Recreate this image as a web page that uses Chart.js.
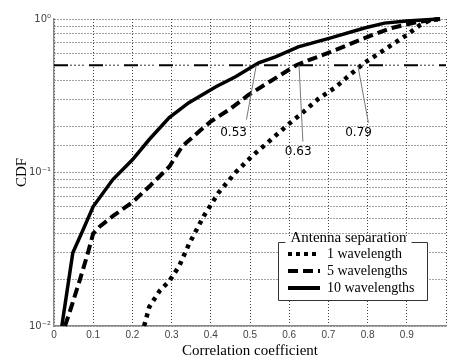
<!DOCTYPE html>
<html>
<head>
<meta charset="utf-8">
<script src="https://cdn.jsdelivr.net/npm/chart.js@4"></script>
<style>
  html, body { margin: 0; padding: 0; background: #fff; }
  #wrap { width: 449px; height: 360px; }
</style>
</head>
<body>
<div id="wrap"><canvas id="cdf"></canvas></div>
<script>
// values
const seriesLabels = ['1 wavelength', '5 wavelengths', '10 wavelengths'];

const oneX = [0.23, 0.243, 0.27, 0.294, 0.319, 0.344, 0.382, 0.42, 0.463, 0.504, 0.554, 0.597, 0.63, 0.673, 0.716, 0.749, 0.792, 0.85, 0.9, 0.934, 0.96, 0.985];
const oneY = [0.01, 0.0133, 0.017, 0.0196, 0.0245, 0.034, 0.052, 0.074, 0.1, 0.127, 0.164, 0.205, 0.24, 0.30, 0.356, 0.42, 0.518, 0.648, 0.787, 0.914, 0.985, 1.0];

const fiveX = [0.028, 0.045, 0.066, 0.085, 0.1, 0.117, 0.15, 0.2, 0.243, 0.294, 0.327, 0.37, 0.4, 0.45, 0.496, 0.55, 0.618, 0.65, 0.706, 0.792, 0.858, 0.927, 0.985];
const fiveY = [0.01, 0.0135, 0.020, 0.029, 0.040, 0.0445, 0.052, 0.064, 0.081, 0.109, 0.148, 0.185, 0.215, 0.26, 0.32, 0.39, 0.50, 0.54, 0.61, 0.75, 0.87, 0.955, 1.0];

const tenX = [0.02, 0.048, 0.07, 0.1, 0.15, 0.2, 0.243, 0.294, 0.344, 0.413, 0.463, 0.522, 0.565, 0.623, 0.706, 0.792, 0.843, 0.9, 0.95, 0.985];
const tenY = [0.01, 0.030, 0.040, 0.060, 0.090, 0.121, 0.164, 0.228, 0.285, 0.362, 0.42, 0.518, 0.567, 0.658, 0.753, 0.874, 0.94, 0.97, 0.99, 1.0];

const xTicks = ['0', '0.1', '0.2', '0.3', '0.4', '0.5', '0.6', '0.7', '0.8', '0.9'];
const yTicks = { 1: '10\u2070', 0.1: '10\u207B\u00B9', 0.01: '10\u207B\u00B2' };

const refLevel = 0.5;
// annotation: text, label x/y, line start x/y, tip x (data units)
const noteText = ['0.53', '0.63', '0.79'];
const noteLabelX = [0.458, 0.623, 0.777];
const noteLabelY = [0.182, 0.137, 0.182];
const noteFromX = [0.491, 0.635, 0.802];
const noteFromY = [0.221, 0.159, 0.211];
const noteTipX = [0.516, 0.625, 0.775];

function toPoints(xs, ys) {
    return xs.map((x, i) => ({ x: x, y: ys[i] }));
}

const styles = [
    { dash: [4, 5], width: 4.5 },
    { dash: [10, 5], width: 4 },
    { dash: [], width: 3.5 }
];

const extras = {
    id: 'extras',
    beforeDatasetsDraw(chart) {
        const { ctx, chartArea, scales } = chart;
        const y = scales.y.getPixelForValue(refLevel);
        ctx.save();
        ctx.fillStyle = '#fff';
        ctx.fillRect(chartArea.left + 1, y - 1.5, chartArea.width, 3);
        ctx.strokeStyle = '#000';
        // long dashes
        ctx.lineWidth = 2;
        ctx.setLineDash([14, 21]);
        ctx.beginPath();
        ctx.moveTo(chartArea.left, y);
        ctx.lineTo(chartArea.right, y);
        ctx.stroke();
        // small dots between them
        ctx.lineWidth = 1;
        ctx.strokeStyle = '#333';
        ctx.setLineDash([0, 16, 2, 2, 2, 2, 2, 2, 2, 5]);
        ctx.beginPath();
        ctx.moveTo(chartArea.left, y);
        ctx.lineTo(chartArea.right, y);
        ctx.stroke();
        ctx.restore();
    },
    afterDatasetsDraw(chart) {
        const { ctx, chartArea, scales } = chart;
        const xs = scales.x, ys = scales.y;
        ctx.save();
        // annotations
        ctx.font = '12px "DejaVu Sans", sans-serif';
        ctx.fillStyle = '#000';
        ctx.textAlign = 'center';
        ctx.textBaseline = 'middle';
        noteText.forEach((t, i) => {
            ctx.strokeStyle = '#777';
            ctx.lineWidth = 1;
            ctx.setLineDash([]);
            ctx.beginPath();
            ctx.moveTo(xs.getPixelForValue(noteFromX[i]), ys.getPixelForValue(noteFromY[i]));
            ctx.lineTo(xs.getPixelForValue(noteTipX[i]), ys.getPixelForValue(refLevel));
            ctx.stroke();
            ctx.fillText(t, xs.getPixelForValue(noteLabelX[i]), ys.getPixelForValue(noteLabelY[i]));
        });

        // legend box
        const right = chartArea.right - 19, bottom = chartArea.bottom - 26;
        const w = 149, h = 58;
        const left = right - w, top = bottom - h;
        ctx.fillStyle = '#fff';
        ctx.fillRect(left, top - 6, w, h + 6);
        ctx.font = '15px "Liberation Serif", serif';
        const title = 'Antenna separation';
        const tw = ctx.measureText(title).width;
        const cx = left + w / 2 - 4;
        ctx.strokeStyle = '#333';
        ctx.lineWidth = 1;
        ctx.beginPath();
        ctx.moveTo(cx - tw / 2 - 5, top + 0.5);
        ctx.lineTo(left + 0.5, top + 0.5);
        ctx.lineTo(left + 0.5, bottom + 0.5);
        ctx.lineTo(right + 0.5, bottom + 0.5);
        ctx.lineTo(right + 0.5, top + 0.5);
        ctx.lineTo(cx + tw / 2 + 5, top + 0.5);
        ctx.stroke();
        ctx.fillStyle = '#000';
        ctx.textAlign = 'center';
        ctx.fillText(title, cx, top - 4);

        ctx.font = '14px "Liberation Serif", serif';
        ctx.textAlign = 'left';
        chart.data.datasets.forEach((ds, i) => {
            const rowY = top + 12 + i * 17;
            ctx.strokeStyle = '#000';
            ctx.lineWidth = 4;
            ctx.setLineDash(i === 0 ? [4, 4] : ds.borderDash);
            ctx.beginPath();
            ctx.moveTo(left + 10, rowY);
            ctx.lineTo(left + 42, rowY);
            ctx.stroke();
            ctx.fillText(ds.label, left + 49, rowY);
        });
        ctx.restore();
    }
};

new Chart(document.getElementById('cdf'), {
    type: 'line',
    data: {
        datasets: [
            { label: seriesLabels[0], data: toPoints(oneX, oneY) },
            { label: seriesLabels[1], data: toPoints(fiveX, fiveY) },
            { label: seriesLabels[2], data: toPoints(tenX, tenY) }
        ].map((ds, i) => Object.assign(ds, {
            borderColor: '#000',
            borderWidth: styles[i].width,
            borderDash: styles[i].dash,
            pointRadius: 0,
            tension: 0,
            fill: false,
            clip: 4
        }))
    },
    options: {
        responsive: true,
        maintainAspectRatio: false,
        animation: false,
        layout: { padding: { top: 19, right: 0, left: 0, bottom: 0 } },
        plugins: {
            legend: { display: false },
            tooltip: { enabled: false }
        },
        scales: {
            x: {
                type: 'linear',
                min: 0,
                max: 1,
                afterFit: function (scale) { scale.height = 34; },
                afterBuildTicks: function (scale) {
                    scale.ticks = xTicks.map(t => ({ value: parseFloat(t) })).concat([{ value: 1 }]);
                },
                ticks: {
                    color: '#444',
                    padding: 3,
                    font: { family: '"Liberation Sans", Arial, sans-serif', size: 10 },
                    callback: function (value) {
                        const i = Math.round(value * 10);
                        return i < xTicks.length ? xTicks[i] : '';
                    }
                },
                grid: {
                    color: '#444',
                    lineWidth: 1,
                    drawTicks: false
                },
                border: { display: true, color: '#888', width: 1.5, dash: [1, 2] },
                title: {
                    display: true,
                    text: 'Correlation coefficient',
                    color: '#000',
                    font: { family: '"Liberation Serif", serif', size: 15 },
                    padding: { top: 0, bottom: 0 }
                }
            },
            y: {
                type: 'logarithmic',
                min: 0.01,
                max: 1,
                afterFit: function (scale) { scale.width = 54; },
                ticks: {
                    autoSkip: false,
                    color: '#444',
                    padding: 3,
                    font: { family: '"DejaVu Sans", sans-serif', size: 10 },
                    callback: function (value) {
                        return yTicks[value] !== undefined ? yTicks[value] : '';
                    }
                },
                grid: {
                    color: '#444',
                    lineWidth: 1,
                    drawTicks: false
                },
                border: { display: true, color: '#888', width: 1.5, dash: [1, 2] },
                title: {
                    display: true,
                    text: 'CDF',
                    color: '#000',
                    font: { family: '"Liberation Serif", serif', size: 15 },
                    padding: { top: 13, bottom: 0 }
                }
            }
        }
    },
    plugins: [extras]
});
</script>
</body>
</html>
